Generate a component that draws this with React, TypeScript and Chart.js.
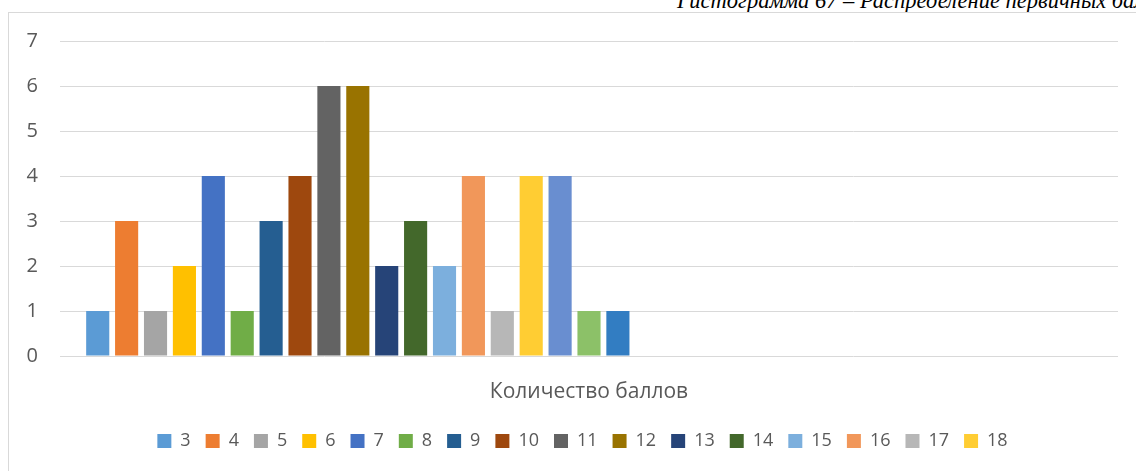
import React, { useEffect, useRef } from 'react';
import { Chart, registerables } from 'chart.js';

Chart.register(...registerables);

// ---- data ----
const categories = ['Количество баллов'];

const seriesNames = [
  '3', '4', '5', '6', '7', '8', '9', '10', '11', '12', '13', '14', '15', '16', '17', '18', '19', '20', '21',
  '22', '23', '24', '25', '26', '27', '28', '29', '30', '31', '32', '33', '34', '35', '36', '37',
];

const seriesValues: (number | null)[] = [
  1, 3, 1, 2, 4, 1, 3, 4, 6, 6, 2, 3, 2, 4, 1, 4, 4, 1, 1,
  null, null, null, null, null, null, null, null, null, null, null, null, null, null, null, null,
];

const seriesColors = [
  '#5B9BD5', '#ED7D31', '#A5A5A5', '#FFC000', '#4472C4', '#70AD47', '#255E91', '#9E480E', '#636363',
  '#997300', '#264478', '#43682B', '#7CAFDD', '#F1975A', '#B7B7B7', '#FFCD33', '#698ED0', '#8CC168',
  '#327DC2', '#D26012', '#848484', '#CC9A00', '#335AA1', '#5A8A39', '#9DC3E6', '#F4B183', '#C9C9C9',
  '#FFD966', '#8FAADC', '#A9D18E', '#1F4E79', '#843C0C', '#525252', '#7F6000', '#203864',
];

const yMin = 0;
const yMax = 7;
const yStep = 1;

const titleText = 'Гистограмма 67 – Распределение первичных баллов';

// ---- styling ----
const TEXT_COLOR = '#595959';
const GRID_COLOR = '#d9d9d9';
const FONT = 'Open Sans';
const LEGEND_WRAP_WIDTH = 910;
const LEGEND_LEFT = 107;
const LEGEND_RIGHT = 1040;

const legendWrapPlugin = {
  id: 'legendWrap',
  beforeLayout(chart: any) {
    const lg = chart.legend;
    if (lg && !lg.__wrapped) {
      const orig = lg.update.bind(lg);
      lg.update = (w: number, h: number, m: any) => orig(Math.min(w, LEGEND_WRAP_WIDTH), h, m);
      lg.__wrapped = true;
    }
  },
  afterLayout(chart: any) {
    const lg = chart.legend;
    if (lg) {
      lg.left = LEGEND_LEFT;
      lg.right = LEGEND_RIGHT;
    }
  },
};

export default function App() {
  const ref = useRef<HTMLCanvasElement>(null);

  useEffect(() => {
    const datasets = seriesNames.map((name, i) => ({
      label: name,
      data: [seriesValues[i]],
      backgroundColor: seriesColors[i],
      borderWidth: 0,
    }));

    const chart = new Chart(ref.current as HTMLCanvasElement, {
      type: 'bar',
      data: { labels: categories, datasets },
      plugins: [legendWrapPlugin],
      options: {
        responsive: false,
        animation: false,
        layout: { padding: { left: 17, right: 38, top: 28, bottom: 0 } },
        datasets: { bar: { categoryPercentage: 0.956, barPercentage: 0.8 } },
        scales: {
          x: {
            grid: { display: false },
            border: { display: false },
            ticks: { color: TEXT_COLOR, font: { family: FONT, size: 21 }, padding: 15 },
            afterFit: (s: any) => {
              s.height = 61;
              s.paddingLeft = 0;
              s.paddingRight = 0;
            },
          },
          y: {
            min: yMin,
            max: yMax,
            ticks: { stepSize: yStep, color: TEXT_COLOR, font: { family: FONT, size: 20 }, padding: 22 },
            grid: { color: GRID_COLOR, drawTicks: false },
            border: { display: false },
            afterFit: (s: any) => {
              s.width = 34;
              s.paddingTop = 0;
              s.paddingBottom = 0;
            },
          },
        },
        plugins: {
          legend: {
            position: 'bottom',
            maxHeight: 49,
            labels: {
              boxWidth: 14,
              boxHeight: 14,
              padding: 15,
              color: TEXT_COLOR,
              font: { family: FONT, size: 18 },
            },
          },
          tooltip: { enabled: false },
          title: { display: false },
        },
      } as any,
    });
    return () => chart.destroy();
  }, []);

  return (
    <>
      <div style={{ position: 'absolute', left: 0, top: 0, width: 1136, height: 12, overflow: 'hidden' }}>
        <div
          style={{
            position: 'absolute',
            left: 677,
            top: -11,
            fontFamily: '"Liberation Serif", serif',
            fontStyle: 'italic',
            fontSize: 22.5,
            lineHeight: '23px',
            whiteSpace: 'nowrap',
            color: '#000',
          }}
        >
          {titleText}
        </div>
      </div>
      <div
        style={{
          position: 'absolute',
          left: 8,
          top: 12,
          width: 1128,
          height: 459,
          overflow: 'hidden',
          background: '#fff',
        }}
      >
        <div style={{ border: `1px solid ${GRID_COLOR}`, width: 1170, height: 600, boxSizing: 'border-box' }}>
          <canvas ref={ref} width={1147} height={453} style={{ display: 'block' }} />
        </div>
      </div>
    </>
  );
}
